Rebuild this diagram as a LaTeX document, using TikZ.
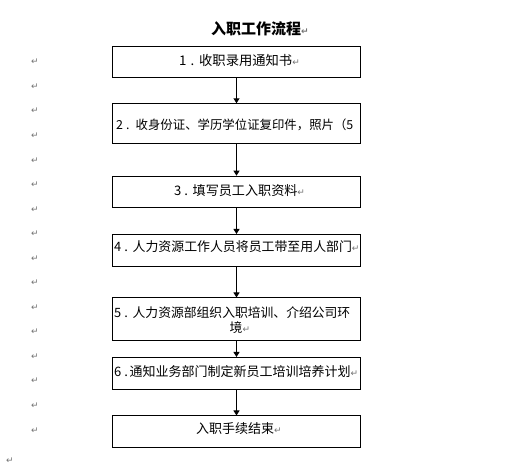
\documentclass[tikz,border=0pt]{standalone}
\usepackage{fontspec}
\usetikzlibrary{arrows.meta}
\newfontfamily\cjk{Noto Sans CJK SC}
\newfontfamily\djv{DejaVu Sans}
\definecolor{markgray}{gray}{0.45}
\newcommand\pmk{{\djv\fontsize{9}{9}\selectfont\color{markgray}↵}}
\newcommand\fsz[1]{\fontsize{#1}{#1}\selectfont}
\newcommand\pre[2]{\makebox[#1][l]{#2}}
\begin{document}
\begin{tikzpicture}[x=1pt,y=-1pt,
  box/.style={draw,line width=1pt,minimum width=248pt,inner sep=0pt},
  txt/.style={inner sep=0pt,anchor=west,font=\cjk},
  arr/.style={line width=1pt,-{Triangle[length=5pt,width=6pt]}},
  mk/.style={inner sep=0pt}]
\fill[white] (0,0) rectangle (515,465);
\useasboundingbox (0,0) rectangle (515,465);

% title
\node[txt] (title) at (211,29) {\fsz{15}\bfseries 入职工作流程\pmk};

% boxes
\node[box,minimum height=31pt] (b1) at (236.5,62.5) {};
\node[box,minimum height=40pt] (b2) at (236.5,123.8) {};
\node[box,minimum height=31pt] (b3) at (236.5,191.7) {};
\node[box,minimum height=32pt] (b4) at (236.5,250.5) {};
\node[box,minimum height=43pt] (b5) at (236.5,319.5) {};
\node[box,minimum height=32pt] (b6) at (236.5,373.5) {};
\node[box,minimum height=32pt] (b7) at (236.5,432) {};

% texts
\node[txt] (t1) at (179,60.3) {\fsz{13.3}\pre{20pt}{1\kern4pt.}收职录用通知书\pmk};
\node[txt] (t2) at (116,125) {\fsz{12.4}\pre{19.5pt}{2\kern3pt.}收身份证、学历学位证复印件，照片（5};
\node[txt] (t3) at (174,190.5) {\fsz{13.1}\pre{18.5pt}{3\kern3pt.}填写员工入职资料\pmk};
\node[txt] (t4) at (114,246.5) {\fsz{12.9}\pre{18.5pt}{4\kern3pt.}人力资源工作人员将员工带至用人部门\pmk};
\node[txt] (t5a) at (114,312.5) {\fsz{12.8}\pre{18.5pt}{5\kern3pt.}人力资源部组织入职培训、介绍公司环};
\node[txt] (t5b) at (229.5,328) {\fsz{12.8}境\pmk};
\node[txt] (t6) at (114,371.5) {\fsz{13}\pre{15.5pt}{6\kern3pt.}通知业务部门制定新员工培训培养计划\pmk};
\node[txt] (t7) at (196,428.5) {\fsz{13}入职手续结束\pmk};

% connectors
\draw[arr] (b1.south) -- (b2.north);
\draw[arr] (b2.south) -- (b3.north);
\draw[arr] (b3.south) -- (b4.north);
\draw[arr] (b4.south) -- (b5.north);
\draw[arr] (b5.south) -- (b6.north);
\draw[arr] (b6.south) -- (b7.north);

% paragraph marks on the left
\foreach \k in {0,...,15}{
  \node[mk] (m\k) at (35,{62+24.55*\k}) {\pmk};
}
\node[mk] (mlast) at (10,461) {\pmk};
\end{tikzpicture}
\end{document}
